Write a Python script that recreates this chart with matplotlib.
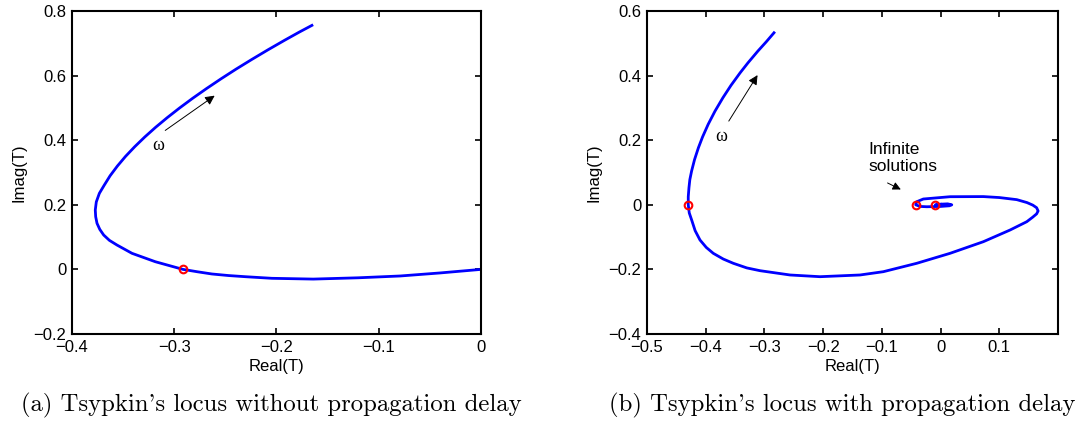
import matplotlib
matplotlib.use('Agg')
import matplotlib.pyplot as plt
from matplotlib.ticker import FuncFormatter

# Tsypkin locus without delay
re_a = [0.0, -0.04, -0.079, -0.12, -0.164, -0.2044, -0.2305, -0.247, -0.2631, -0.277,
        -0.2914, -0.3185, -0.3413, -0.356, -0.3634, -0.369, -0.3728, -0.3755, -0.3768,
        -0.3772, -0.3762, -0.3732, -0.3686, -0.3627, -0.3556, -0.3476, -0.3386, -0.3288,
        -0.3182, -0.3068, -0.2947, -0.2819, -0.2684, -0.2543, -0.2396, -0.2242, -0.2083,
        -0.1918, -0.1776, -0.1653]
im_a = [0.0, -0.011, -0.0204, -0.026, -0.030, -0.0276, -0.0226, -0.019, -0.0142, -0.0075,
        0.0, 0.0238, 0.0498, 0.0755, 0.09, 0.1065, 0.124, 0.1427, 0.163,
        0.1839, 0.209, 0.2356, 0.26, 0.29, 0.32, 0.35, 0.38, 0.41,
        0.44, 0.47, 0.50, 0.53, 0.56, 0.59, 0.62, 0.65, 0.68,
        0.71, 0.735, 0.7557]
sol_re_a = [-0.2914]
sol_im_a = [0.0]

# Tsypkin locus with delay
re_b = [-0.2837, -0.2968, -0.3111, -0.3279, -0.3413, -0.3569, -0.3707, -0.3842, -0.3958,
        -0.4054, -0.4124, -0.419, -0.424, -0.427, -0.4285, -0.4297, -0.4297, -0.428,
        -0.4239, -0.418, -0.4097, -0.399, -0.3871, -0.370, -0.353, -0.33, -0.3075,
        -0.2564, -0.2053, -0.1372, -0.0975, -0.0406, 0.0161, 0.0728, 0.1183, 0.1467,
        0.157, 0.1635, 0.166, 0.1635, 0.157, 0.147, 0.1297, 0.1, 0.0728, 0.0161,
        -0.0294, -0.0406, -0.0424, -0.035, -0.0236, 0.0, 0.015, 0.019, 0.012, 0.0,
        -0.009, -0.005, 0.005, 0.002]
im_b = [0.5328, 0.505, 0.4762, 0.44, 0.409, 0.37, 0.3316, 0.29, 0.2492,
        0.21, 0.1768, 0.14, 0.1046, 0.078, 0.053, 0.025, 0.0, -0.025,
        -0.047, -0.08, -0.109, -0.132, -0.1502, -0.168, -0.1811, -0.1954, -0.204,
        -0.2173, -0.2226, -0.2173, -0.2071, -0.1811, -0.1502, -0.1142, -0.078, -0.0523,
        -0.038, -0.028, -0.019, -0.009, -0.001, 0.007, 0.016, 0.0225, 0.0255, 0.0251,
        0.018, 0.0096, 0.0, -0.005, -0.006, -0.005, -0.003, 0.0, 0.003, 0.002,
        0.0, -0.002, -0.001, 0.001]
sol_re_b = [-0.4297, -0.0424, -0.009]
sol_im_b = [0.0, 0.0, 0.0]

plt.rcParams['font.family'] = 'Liberation Sans'
plt.rcParams['font.size'] = 12

def fmt(v, pos):
    s = '%g' % round(v, 6)
    return s.replace('-', '\u2212')

def setup(ax):
    ax.tick_params(direction='in', top=True, right=True, length=4, width=1.2,
                   labelsize=12, pad=4)
    for sp in ax.spines.values():
        sp.set_linewidth(1.5)
    ax.xaxis.set_major_formatter(FuncFormatter(fmt))
    ax.yaxis.set_major_formatter(FuncFormatter(fmt))
    ax.set_xlabel('Real(T)', labelpad=3)
    ax.set_ylabel('Imag(T)', labelpad=5)

fig = plt.figure(figsize=(10.79, 4.21), dpi=100)
ax1 = fig.add_axes([0.0667, 0.2067, 0.379, 0.767])
ax2 = fig.add_axes([0.5996, 0.2067, 0.381, 0.767])

ax1.plot(re_a, im_a, color='#0000ff', lw=2, solid_joinstyle='round')
ax1.plot(sol_re_a, sol_im_a, 'o', mfc='none', mec='#ff0000', ms=5.5, mew=1.5)
ax1.set_xlim(-0.4, 0)
ax1.set_ylim(-0.2, 0.8)
ax1.set_xticks([-0.4, -0.3, -0.2, -0.1, 0])
ax1.set_yticks([-0.2, 0, 0.2, 0.4, 0.6, 0.8])
ax1.annotate('', xy=(-0.2582, 0.543), xytext=(-0.311, 0.4254),
             arrowprops=dict(arrowstyle='-|>', color='k', lw=0.7, mutation_scale=14))
ax1.text(-0.316, 0.385, '\u03c9', fontsize=13, family='Liberation Serif',
         ha='center', va='center')
setup(ax1)

ax2.plot(re_b, im_b, color='#0000ff', lw=2, solid_joinstyle='round')
ax2.plot(sol_re_b, sol_im_b, 'o', mfc='none', mec='#ff0000', ms=5.5, mew=1.5)
ax2.set_xlim(-0.5, 0.2)
ax2.set_ylim(-0.4, 0.6)
ax2.set_xticks([-0.5, -0.4, -0.3, -0.2, -0.1, 0, 0.1])
ax2.set_yticks([-0.4, -0.2, 0, 0.2, 0.4, 0.6])
ax2.annotate('', xy=(-0.3092, 0.409), xytext=(-0.3632, 0.252),
             arrowprops=dict(arrowstyle='-|>', color='k', lw=0.7, mutation_scale=14))
ax2.text(-0.374, 0.211, '\u03c9', fontsize=13, family='Liberation Serif',
         ha='center', va='center')
ax2.annotate('', xy=(-0.0635, 0.0437), xytext=(-0.0946, 0.0715),
             arrowprops=dict(arrowstyle='-|>', color='k', lw=0.7, mutation_scale=12))
ax2.text(-0.1236, 0.145, 'Infinite\nsolutions', fontsize=12.5, ha='left', va='center',
         linespacing=1.15)
setup(ax2)

fig.text(0.2516, 0.038, "(a) Tsypkin's locus without propagation delay",
         family='cmr10', fontsize=17.8, ha='center', va='center')
fig.text(0.7808, 0.038, "(b) Tsypkin's locus with propagation delay",
         family='cmr10', fontsize=17.8, ha='center', va='center')

fig.savefig('out.png', dpi=100)
